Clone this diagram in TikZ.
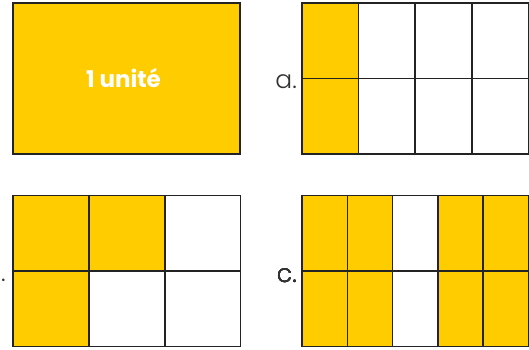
\documentclass[tikz,border=0pt]{standalone}
\usepackage{fontspec}
\setmainfont{Poppins}
\newfontfamily\lightfont{Poppins Light}
\usetikzlibrary{positioning}
\definecolor{partcolor}{RGB}{255,204,0}
\definecolor{gridcolor}{RGB}{35,35,35}
\definecolor{lblcolor}{RGB}{50,50,50}
\tikzset{
  gridln/.style={draw=gridcolor, line width=1.5pt},
  partfill/.style={fill=partcolor},
  emptyfill/.style={fill=white},
  itemlbl/.style={font=\lightfont\fontsize{25}{25}\selectfont, text=lblcolor, anchor=base east, inner sep=0pt},
}
% one cell of a grid: #1 fill, #2 corner, #3 width, #4 height
\newcommand{\gridcell}[4]{%
  \draw[gridln, #1] #2 rectangle ++(#3,#4);
}

\begin{document}
\begin{tikzpicture}[x=1pt, y=-1pt]
  \useasboundingbox (0,0) rectangle (529,349);
  % the whole
  \node[gridln, partfill, minimum width=227pt, minimum height=151pt, inner sep=0pt] (unit) at (126.5,78.5) {};
  \node[font=\bfseries\fontsize{23}{23}\selectfont, text=white, inner sep=0pt] (unitlbl) at (123.5,78) {1 unité};
  % a. : 4 columns, 2 rows, first column
  \node[itemlbl] (lbla) at (297,88) {a.};
  \foreach \i in {0,...,3}
    \foreach \j in {0,1} {
      \ifnum\i=0 \gridcell{partfill}{({302+\i*56.6},{3+\j*75.5})}{56.6}{75.5}
      \else \gridcell{emptyfill}{({302+\i*56.6},{3+\j*75.5})}{56.6}{75.5} \fi
    }
  % b. : 3 columns, 2 rows, three cells
  \node[itemlbl] (lblb) at (6,281) {b.};
  \foreach \i/\j/\f in {0/0/partfill, 1/0/partfill, 2/0/emptyfill,
                        0/1/partfill, 1/1/emptyfill, 2/1/emptyfill}
    \gridcell{\f}{({13+\i*75.9},{195.5+\j*75.6})}{75.9}{75.6}
  % c. : 5 columns, 2 rows, all but the middle column
  \node[itemlbl] (lblc) at (297,282) {c.};
  \foreach \i in {0,...,4}
    \foreach \j in {0,1} {
      \ifnum\i=2 \gridcell{emptyfill}{({302+\i*45.3},{195.5+\j*75.6})}{45.3}{75.6}
      \else \gridcell{partfill}{({302+\i*45.3},{195.5+\j*75.6})}{45.3}{75.6} \fi
    }
\end{tikzpicture}
\end{document}
